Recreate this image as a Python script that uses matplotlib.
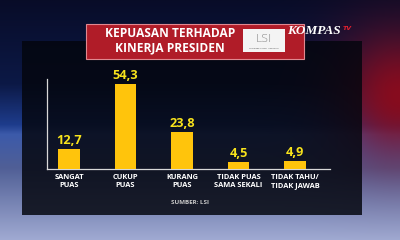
import numpy as np
import matplotlib
matplotlib.use("Agg")
import matplotlib.pyplot as plt
from matplotlib.patches import Rectangle

categories = ["SANGAT\nPUAS", "CUKUP\nPUAS", "KURANG\nPUAS", "TIDAK PUAS\nSAMA SEKALI", "TIDAK TAHU/\nTIDAK JAWAB"]
values = [12.7, 54.3, 23.8, 4.5, 4.9]
value_labels = ["12,7", "54,3", "23,8", "4,5", "4,9"]
title = "KEPUASAN TERHADAP\nKINERJA PRESIDEN"
source = "SUMBER: LSI"

W, H = 400, 240
fig = plt.figure(figsize=(4, 2.4), dpi=100)

# background gradient
bg = fig.add_axes([0, 0, 1, 1])
bg.set_axis_off()
bg.set_zorder(0)
yy, xx = np.mgrid[0:1:240j, 0:1:400j]
stops = [0.0, 0.35, 0.52, 0.56, 0.7, 1.0]
cols = np.array([(8, 12, 40), (12, 25, 70), (30, 60, 140), (60, 90, 170),
                 (80, 95, 150), (160, 170, 210)]) / 255
img = np.stack([np.interp(yy, stops, cols[:, c]) for c in range(3)], axis=-1)
red = np.array([135, 12, 30]) / 255
r = np.exp(-(((xx - 1.0) / 0.17) ** 2 + ((yy - 0.4) / 0.28) ** 2))
img = img * (1 - r[..., None]) + red[None, None, :] * r[..., None]
bg.imshow(np.clip(img, 0, 1), extent=[0, 1, 0, 1], aspect="auto", origin="upper")
bg.set_xlim(0, 1); bg.set_ylim(0, 1)

def fx(px):
    return px / W

def fy(py):
    return 1 - py / H

# dark panel
bg.add_patch(Rectangle((fx(22), fy(215)), fx(340), 174 / H, transform=bg.transAxes,
                       facecolor="#04060e", alpha=0.84, edgecolor="none", zorder=2))

# chart axes
ax = fig.add_axes([fx(47), fy(168.5), fx(283), 90 / H])
ax.set_zorder(5)
ax.patch.set_alpha(0)
x = np.arange(len(values))
ax.bar(x, values, width=0.38, color="#ffc40c", zorder=3)
for xi, v, lab in zip(x, values, value_labels):
    ax.text(xi, v + 1.2, lab, ha="center", va="bottom", color="#f8e31c",
            fontsize=9.2, fontweight="bold", family="Open Sans")
ax.set_xlim(-0.39, 4.62)
ax.set_ylim(0, 58)
for s in ["top", "right"]:
    ax.spines[s].set_visible(False)
ax.spines["left"].set_color("#d8d8d8")
ax.spines["bottom"].set_color("#d8d8d8")
ax.spines["left"].set_linewidth(0.9)
ax.spines["bottom"].set_linewidth(0.9)
ax.set_yticks([])
ax.set_xticks(x)
ax.set_xticklabels(categories, color="white", fontsize=5.4, fontweight="bold",
                   family="Open Sans", linespacing=1.1)
ax.tick_params(axis="x", length=0, pad=4)

# overlay axes for texts / banner
ov = fig.add_axes([0, 0, 1, 1])
ov.set_zorder(6)
ov.set_axis_off()
ov.patch.set_alpha(0)
ov.set_xlim(0, 1); ov.set_ylim(0, 1)

ov.text(fx(190), fy(203), source, ha="center", va="center", color="#c8c8c8",
        fontsize=4.5, fontweight="bold", family="Open Sans")

# banner
ov.add_patch(Rectangle((fx(86), fy(59)), fx(218), 35 / H,
                       facecolor="#b01c28", edgecolor="#e08890", linewidth=0.8, zorder=2))
ov.text(fx(170), fy(40.5), title, ha="center", va="center", color="white",
        fontsize=8.6, fontweight="bold", family="Open Sans", linespacing=1.1, zorder=3)
# logo box
ov.add_patch(Rectangle((fx(243), fy(52)), fx(42), 23 / H,
                       facecolor="#f4f4f4", edgecolor="none", zorder=3))
ov.text(fx(264), fy(38.5), "LSI", ha="center", va="center", color="#777777",
        fontsize=8, family="DejaVu Sans", fontweight="light", zorder=4)
ov.text(fx(264), fy(48.5), "Lembaga Survei Indonesia", ha="center", va="center", color="#555555",
        fontsize=1.6, zorder=4)

# channel logo
ov.text(fx(287), fy(31), "KOMPAS", ha="left", va="center", color="white",
        fontsize=9.5, family="Liberation Serif", style="italic", fontweight="bold", zorder=4)
ov.text(fx(343), fy(28), "TV", ha="left", va="center", color="#e02030",
        fontsize=4.5, family="DejaVu Sans", style="italic", fontweight="bold", zorder=4)

fig.savefig("out.png", dpi=100)
